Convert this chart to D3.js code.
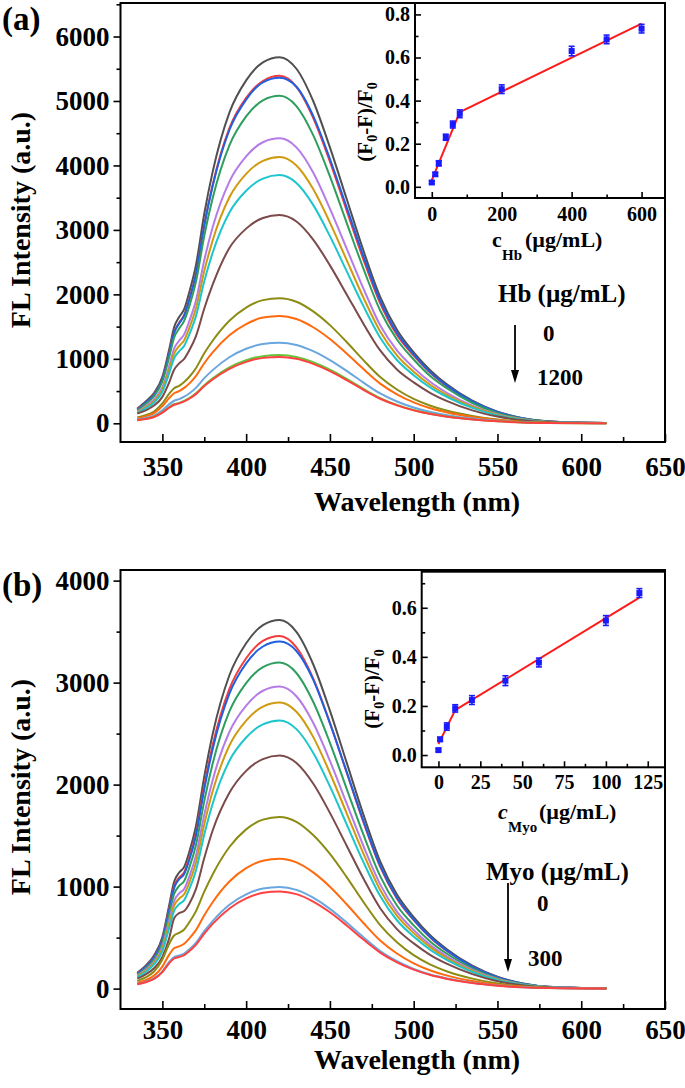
<!DOCTYPE html>
<html><head><meta charset="utf-8">
<script src="https://cdn.jsdelivr.net/npm/d3@7"></script>
<style>
body{margin:0;background:#fff}
svg{display:block}
text{font-family:'Liberation Serif','Times New Roman',serif;font-weight:bold;fill:#000}
</style>
</head><body><script>
// ---------- DATA ----------
const wavelength = [335,340,345,350,354,357,360,363,366,370,375,380,390,400,410,420,430,440,450,460,470,480,490,500,510,520,535,550,565,580,600,615];
const wavelengthTicks = [350,400,450,500,550,600,650];
const wavelengthMinor = [375,425,475,525,575,625];

// Panel (a): Hb 0 -> 1200 ug/mL
const hb0  = [230,340,470,720,1140,1490,1650,1770,2030,2450,3250,3900,4820,5320,5600,5680,5500,5000,4280,3480,2680,1960,1450,1100,820,600,350,180,80,30,10,5];
const hb1  = [220,320,450,680,1080,1410,1560,1680,1920,2320,3080,3700,4580,5050,5310,5390,5220,4740,4060,3300,2540,1860,1370,1050,780,570,330,170,75,27,10,5];
const hb2  = [210,320,440,680,1070,1400,1550,1670,1910,2310,3070,3680,4550,5020,5290,5360,5220,4770,4100,3350,2590,1900,1400,1070,790,580,340,175,78,28,10,5];
const hb3  = [200,300,420,650,1020,1330,1470,1590,1810,2190,2910,3490,4310,4760,5010,5080,4920,4470,3830,3110,2400,1750,1300,990,730,540,315,160,70,25,10,5];
const hb4  = [180,265,370,560,880,1160,1280,1380,1580,1900,2530,3040,3750,4140,4360,4420,4280,3890,3330,2710,2090,1520,1130,860,640,470,274,140,62,22,9,4];
const hb5  = [165,248,343,525,826,1082,1198,1289,1474,1780,2362,2837,3506,3870,4072,4130,3998,3634,3114,2532,1949,1425,1053,801,595,438,256,132,58,21,8,4];
const hb6  = [154,231,320,489,770,1009,1117,1201,1374,1659,2202,2645,3269,3607,3796,3850,3727,3388,2903,2360,1817,1328,982,747,554,408,239,123,54,19,8,4];
const hb7  = [150,200,275,410,630,830,930,1000,1130,1350,1780,2150,2720,3020,3185,3230,3130,2850,2450,2000,1545,1130,835,635,470,345,200,105,46,17,7,3];
const hb8  = [90,126,184,310,456,543,582,640,718,854,1086,1280,1591,1795,1911,1940,1886,1736,1523,1261,980,718,524,378,272,194,113,58,25,10,4,2];
const hb9  = [77,108,158,266,391,466,500,549,616,733,932,1099,1365,1540,1640,1665,1618,1490,1307,1082,841,616,450,325,233,167,97,50,22,8,3,2];
const hb10 = [58,81,119,200,294,350,375,413,463,550,700,825,1025,1156,1231,1250,1215,1119,981,813,631,463,338,244,175,125,73,38,16,6,3,1];
const hb11 = [49,69,101,169,249,296,317,349,391,466,592,698,868,979,1042,1058,1028,947,831,688,534,391,286,206,148,106,61,32,14,5,2,1];
const hb12 = [47,67,98,165,242,288,309,340,381,453,577,680,845,953,1015,1030,1001,922,809,670,520,381,278,201,144,103,60,31,13,5,2,1];
const hbCurves = [hb0,hb1,hb2,hb3,hb4,hb5,hb6,hb7,hb8,hb9,hb10,hb11,hb12];
const hbColors = ["#505050","#f43c3c","#2060e0","#2e9e5e","#b57be6","#d09a10","#1cc6cc","#7b4a4a","#8c8c14","#ff6a0e","#6aa6e0","#66c33a","#ff4040"];
const hbYTicks = [0,1000,2000,3000,4000,5000,6000];
const hbYMinor = [500,1500,2500,3500,4500,5500,6500];

// Panel (b): Myo 0 -> 300 ug/mL
const myo0  = [155,224,325,506,813,1048,1138,1193,1337,1590,2078,2494,3072,3386,3563,3614,3498,3180,2725,2215,1706,1247,922,701,520,383,224,116,51,18,7,4];
const myo1  = [149,214,311,484,778,1003,1089,1141,1279,1521,1988,2385,2938,3239,3409,3457,3346,3042,2607,2119,1632,1193,882,671,498,366,214,111,48,17,7,3];
const myo2  = [146,211,306,476,765,987,1072,1123,1259,1497,1956,2347,2892,3188,3354,3402,3310,3030,2600,2125,1643,1205,890,677,503,370,216,112,49,17,7,3];
const myo3  = [137,198,288,447,719,927,1007,1055,1183,1406,1838,2205,2717,2995,3151,3196,3094,2812,2410,1959,1509,1103,815,620,460,339,198,102,45,16,6,3];
const myo4  = [127,184,266,415,666,859,933,977,1096,1303,1703,2043,2517,2774,2920,2961,2866,2606,2233,1815,1398,1022,755,574,426,314,184,95,41,15,6,3];
const myo5  = [121,174,252,393,631,813,883,925,1037,1234,1612,1935,2383,2627,2765,2804,2714,2468,2114,1719,1323,967,715,544,404,297,174,90,39,14,6,3];
const myo6  = [113,163,237,368,591,762,828,867,972,1156,1511,1813,2234,2462,2591,2628,2544,2313,1982,1611,1240,907,670,510,378,279,163,84,37,13,5,3];
const myo7  = [98,140,200,310,490,690,740,760,830,975,1280,1550,1920,2135,2250,2285,2212,2011,1723,1401,1079,788,583,443,329,242,142,73,32,11,5,2];
const myo8  = [76,109,168,286,437,521,547,580,648,757,950,1119,1388,1561,1657,1682,1635,1505,1320,1093,849,622,454,328,235,168,98,50,22,8,3,2];
const myo9  = [57,83,127,216,331,395,414,439,490,573,719,847,1050,1181,1254,1273,1237,1139,999,827,643,471,344,248,178,127,74,38,17,6,3,1];
const myo10 = [45,65,100,169,259,309,324,344,383,448,563,662,822,924,981,996,968,891,782,647,503,369,269,194,139,100,58,30,13,5,2,1];
const myo11 = [43,62,95,162,248,295,310,329,367,429,538,634,786,884,939,953,926,853,748,619,481,353,257,186,133,95,55,29,12,5,2,1];
const myoCurves = [myo0,myo1,myo2,myo3,myo4,myo5,myo6,myo7,myo8,myo9,myo10,myo11];
const myoColors = ["#505050","#f43c3c","#2060e0","#2e9e5e","#b57be6","#d09a10","#1cc6cc","#7b4a4a","#8c8c14","#ff6a0e","#6aa6e0","#ff4040"];
const myoYTicks = [0,1000,2000,3000,4000];
const myoYMinor = [500,1500,2500,3500];

// Inset (a)
const hbConc   = [0,10,20,40,60,80,200,400,500,600];
const hbQuench = [0.020,0.058,0.109,0.230,0.289,0.339,0.453,0.630,0.684,0.734];
const hbErr    = [0.006,0.008,0.012,0.014,0.016,0.018,0.020,0.022,0.020,0.020];
const hbFit1X = [0,80],  hbFit1Y = [0.031,0.347];
const hbFit2X = [80,600], hbFit2Y = [0.347,0.757];
const hbInXTicks = [0,200,400,600], hbInXMinor = [100,300,500];
const hbInYTicks = [0,0.2,0.4,0.6,0.8], hbInYMinor = [0.1,0.3,0.5,0.7];

// Inset (b)
const myoConc   = [0,1,5,10,20,40,60,100,120];
const myoQuench = [0.020,0.064,0.116,0.190,0.224,0.303,0.377,0.548,0.660];
const myoErr    = [0.006,0.008,0.015,0.015,0.018,0.020,0.018,0.020,0.018];
const myoFit1X = [0,10],   myoFit1Y = [0.045,0.183];
const myoFit2X = [10,120], myoFit2Y = [0.183,0.641];
const myoInXTicks = [0,25,50,75,100,125], myoInXMinor = [12.5,37.5,62.5,87.5,112.5];
const myoInYTicks = [0,0.2,0.4,0.6], myoInYMinor = [0.1,0.3,0.5,0.7];

// ---------- DRAW ----------
const FONT = "'Liberation Serif','Times New Roman',serif";
const svg = d3.select("body").append("svg").attr("width",685).attr("height",1088);

function styleAxis(sel, size){
  sel.attr("font-family",FONT).attr("font-size",size).attr("font-weight","bold");
  sel.select(".domain").remove();
  sel.selectAll(".tick line").attr("stroke","#000").attr("stroke-width",1.6);
}

function drawPanel(o){
  const x = d3.scaleLinear().domain([325,650]).range([o.left,o.right]);
  const y = d3.scaleLinear().domain(o.yDomain).range([o.bottom,o.top]);
  const g = svg.append("g");
  const line = d3.line().x((d,i)=>x(wavelength[i])).y(d=>y(d)).curve(d3.curveMonotoneX);
  o.curves.forEach((c,i)=>{
    g.append("path").attr("d",line(c)).attr("fill","none")
     .attr("stroke",o.colors[i]).attr("stroke-width",2);
  });
  g.append("g").attr("transform",`translate(0,${o.bottom})`)
    .call(d3.axisBottom(x).tickValues(wavelengthTicks).tickSizeInner(-8).tickSizeOuter(0).tickPadding(o.xPad).tickFormat(d3.format("d")))
    .call(s=>styleAxis(s,27));
  g.append("g").attr("transform",`translate(0,${o.bottom})`)
    .call(d3.axisBottom(x).tickValues(wavelengthMinor).tickSizeInner(-5).tickSizeOuter(0).tickFormat(""))
    .call(s=>styleAxis(s,27));
  g.append("g").attr("transform",`translate(${o.left},0)`)
    .call(d3.axisLeft(y).tickValues(o.yTicks).tickSizeInner(7).tickSizeOuter(0).tickPadding(4).tickFormat(d3.format("d")))
    .call(s=>styleAxis(s,27));
  g.append("g").attr("transform",`translate(${o.left},0)`)
    .call(d3.axisLeft(y).tickValues(o.yMinor.filter(v=>v<o.yDomain[1])).tickSizeInner(4).tickSizeOuter(0).tickFormat(""))
    .call(s=>styleAxis(s,27));
  g.append("rect").attr("x",o.left).attr("y",o.top).attr("width",o.right-o.left).attr("height",o.bottom-o.top)
    .attr("fill","none").attr("stroke","#000").attr("stroke-width",2);
  // titles
  g.append("text").attr("x",o.labelX).attr("y",o.labelY).attr("font-size",33).text(o.label);
  g.append("text").attr("text-anchor","middle").attr("font-size",28)
    .attr("transform",`translate(30,${o.yTitleC}) rotate(-90)`).text("FL Intensity (a.u.)");
  g.append("text").attr("text-anchor","middle").attr("font-size",28)
    .attr("x",417).attr("y",o.xTitleY).text("Wavelength (nm)");
}

function drawInset(o){
  const x = d3.scaleLinear().domain(o.xDomain).range([o.left,o.right]);
  const y = d3.scaleLinear().domain(o.yDomain).range([o.bottom,o.top]);
  const g = svg.append("g");
  g.append("rect").attr("x",o.left).attr("y",o.top).attr("width",o.right-o.left).attr("height",o.bottom-o.top).attr("fill","#fff");
  g.append("g").attr("transform",`translate(0,${o.bottom})`)
    .call(d3.axisBottom(x).tickValues(o.xTicks).tickSizeInner(-6).tickSizeOuter(0).tickPadding(o.xPad).tickFormat(d3.format("d")))
    .call(s=>styleAxis(s,20));
  g.append("g").attr("transform",`translate(0,${o.bottom})`)
    .call(d3.axisBottom(x).tickValues(o.xMinor).tickSizeInner(-3.5).tickSizeOuter(0).tickFormat(""))
    .call(s=>styleAxis(s,20));
  g.append("g").attr("transform",`translate(${o.left},0)`)
    .call(d3.axisLeft(y).tickValues(o.yTicks).tickSizeInner(-6).tickSizeOuter(0).tickPadding(5).tickFormat(d3.format(".1f")))
    .call(s=>styleAxis(s,20));
  g.append("g").attr("transform",`translate(${o.left},0)`)
    .call(d3.axisLeft(y).tickValues(o.yMinor).tickSizeInner(-3.5).tickSizeOuter(0).tickFormat(""))
    .call(s=>styleAxis(s,20));
  // fit lines
  [[o.f1x,o.f1y],[o.f2x,o.f2y]].forEach(([fx,fy])=>{
    g.append("line").attr("x1",x(fx[0])).attr("y1",y(fy[0])).attr("x2",x(fx[1])).attr("y2",y(fy[1]))
      .attr("stroke","#ff1a1a").attr("stroke-width",2);
  });
  // error bars and markers
  const blue = "#1a1aff";
  o.cx.forEach((c,i)=>{
    const v=o.cy[i], e=o.err[i], px=x(c);
    g.append("line").attr("x1",px).attr("x2",px).attr("y1",y(v-e)).attr("y2",y(v+e)).attr("stroke",blue).attr("stroke-width",1.6);
    [v-e,v+e].forEach(t=>g.append("line").attr("x1",px-3).attr("x2",px+3).attr("y1",y(t)).attr("y2",y(t)).attr("stroke",blue).attr("stroke-width",1.6));
    g.append("rect").attr("x",px-3).attr("y",y(v)-3).attr("width",6).attr("height",6).attr("fill",blue);
  });
  g.append("rect").attr("x",o.left).attr("y",o.top).attr("width",o.right-o.left).attr("height",o.bottom-o.top)
    .attr("fill","none").attr("stroke","#000").attr("stroke-width",2);
  // y title (F0-F)/F0
  const t = g.append("text").attr("text-anchor","middle").attr("font-size",21)
    .attr("transform",`translate(${o.yTitleX},${o.yTitleC}) rotate(-90)`);
  t.append("tspan").text("(F");
  t.append("tspan").attr("font-size",14).attr("dy",5).text("0");
  t.append("tspan").attr("dy",-5).text("-F)/F");
  t.append("tspan").attr("font-size",14).attr("dy",5).text("0");
  // x title
  g.append("text").attr("x",o.cX).attr("y",o.cY).attr("font-size",22).attr("font-style",o.cItalic?"italic":"normal").text("c");
  g.append("text").attr("x",o.subX).attr("y",o.cY+13).attr("font-size",15).text(o.sub);
  g.append("text").attr("x",o.unitX).attr("y",o.cY).attr("font-size",22).text("(\u00b5g/mL)");
}

function drawLegend(o){
  const g = svg.append("g");
  g.append("text").attr("x",o.tx).attr("y",o.ty).attr("font-size",25).text(o.title);
  g.append("line").attr("x1",o.ax).attr("x2",o.ax).attr("y1",o.a1).attr("y2",o.a2-12).attr("stroke","#000").attr("stroke-width",1.8);
  g.append("path").attr("d",`M${o.ax-4},${o.a2-13}L${o.ax+4},${o.a2-13}L${o.ax},${o.a2}Z`).attr("fill","#000");
  g.append("text").attr("x",o.z0x).attr("y",o.z0y).attr("font-size",23).text("0");
  g.append("text").attr("x",o.z1x).attr("y",o.z1y).attr("font-size",23).text(o.max);
}

drawPanel({left:120.5,right:665,top:3,bottom:442,yDomain:[-290,6520],curves:hbCurves,colors:hbColors,
  yTicks:hbYTicks,yMinor:hbYMinor,xPad:15,label:"(a)",labelX:2,labelY:30,yTitleC:220,xTitleY:511});
drawPanel({left:120.5,right:665,top:570,bottom:1009,yDomain:[-200,4104],curves:myoCurves,colors:myoColors,
  yTicks:myoYTicks,yMinor:myoYMinor,xPad:11,label:"(b)",labelX:2,labelY:596,yTitleC:787,xTitleY:1069});

drawInset({left:415,right:665,top:3,bottom:198,xDomain:[-48,667],yDomain:[-0.052,0.853],
  xTicks:hbInXTicks,xMinor:hbInXMinor,yTicks:hbInYTicks,yMinor:hbInYMinor,xPad:9,
  cx:hbConc,cy:hbQuench,err:hbErr,f1x:hbFit1X,f1y:hbFit1Y,f2x:hbFit2X,f2y:hbFit2Y,
  yTitleX:372,yTitleC:122,cX:492,cY:247,cItalic:false,sub:"Hb",subX:502,unitX:525});
drawInset({left:421.7,right:665,top:571.7,bottom:767.3,xDomain:[-10,135.3],yDomain:[-0.05,0.747],
  xTicks:myoInXTicks,xMinor:myoInXMinor,yTicks:myoInYTicks,yMinor:myoInYMinor,xPad:8,
  cx:myoConc,cy:myoQuench,err:myoErr,f1x:myoFit1X,f1y:myoFit1Y,f2x:myoFit2X,f2y:myoFit2Y,
  yTitleX:379,yTitleC:689,cX:498,cY:819,cItalic:true,sub:"Myo",subX:508,unitX:539});

drawLegend({title:"Hb (\u00b5g/mL)",tx:498,ty:302,ax:515,a1:325,a2:383,z0x:543,z0y:341,z1x:537,z1y:385,max:"1200"});
drawLegend({title:"Myo (\u00b5g/mL)",tx:486,ty:880,ax:508,a1:883,a2:972,z0x:537,z0y:911,z1x:528,z1y:966,max:"300"});
</script></body></html>
